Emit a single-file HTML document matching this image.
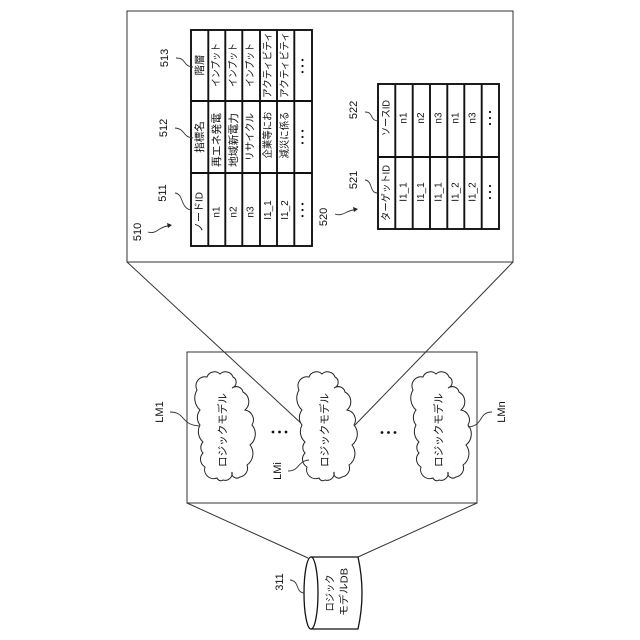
<!DOCTYPE html>
<html><head><meta charset="utf-8"><style>
html,body{margin:0;padding:0;background:#fff}
svg{display:block}
text{font-family:"Liberation Sans","Noto Sans CJK JP",sans-serif;fill:#111;text-anchor:middle;dominant-baseline:central}
.c{font-size:10px}
.k{font-size:10.5px}
.l{font-size:11px}
.t line,.t rect{stroke:#111;stroke-width:1.9;fill:none}
</style></head><body>
<svg width="640" height="640" viewBox="0 0 640 640" xmlns="http://www.w3.org/2000/svg">
<defs>
<path id="cl" d="M8,94 A9,9 0 0 1 6,80 A8,8 0 0 1 6,69 A14,14 0 0 1 3,52 A12,12 0 0 1 3,37 A16,16 0 0 1 0,17 A9,9 0 0 1 10,4 A8,8 0 0 1 23,1 A8,8 0 0 1 36,4 A6,6 0 0 1 35,15 A7,7 0 0 1 46,19 A11,11 0 0 1 48,37 A10,10 0 0 1 55,52 A14,14 0 0 1 53,72 A14,14 0 0 1 50,92 A9,9 0 0 1 43,104 A5,5 0 0 1 35,99 A7,7 0 0 1 26,107 A4,4 0 0 1 20,105 A9,9 0 0 1 8,94 Z" fill="#fff" stroke="#222" stroke-width="1"/>
</defs>
<g fill="none" stroke="#333" stroke-width="1">
<rect x="127" y="11" width="386" height="251"/>
<rect x="187" y="352" width="290" height="151"/>
<path d="M127,262 L303,425 M513,262 L355,425 M187,503 L308,558 M477,503 L358,557"/>
</g>
<use href="#cl" x="197" y="373"/>
<use href="#cl" x="299" y="373"/>
<use href="#cl" x="413" y="373"/>
<text class="k" textLength="74" lengthAdjust="spacingAndGlyphs" transform="translate(223,430) rotate(-90)">ロジックモデル</text>
<text class="k" textLength="74" lengthAdjust="spacingAndGlyphs" transform="translate(325,430) rotate(-90)">ロジックモデル</text>
<text class="k" textLength="74" lengthAdjust="spacingAndGlyphs" transform="translate(439,430) rotate(-90)">ロジックモデル</text>
<g fill="#111">
<circle cx="273" cy="432" r="1.4"/><circle cx="279.500" cy="432" r="1.4"/><circle cx="286" cy="432" r="1.4"/>
<circle cx="382" cy="432.500" r="1.4"/><circle cx="388.500" cy="432.500" r="1.4"/><circle cx="395" cy="432.500" r="1.4"/>
</g>
<!-- cylinder -->
<path d="M311,557 L358,557 Q366,593 358,629 L311,629" fill="#fff" stroke="#111" stroke-width="1.3"/>
<ellipse cx="311" cy="593" rx="7" ry="36" fill="#fff" stroke="#111" stroke-width="1.3"/>
<text class="c" textLength="37" lengthAdjust="spacingAndGlyphs" transform="translate(331,593) rotate(-90)">ロジック</text>
<text class="c" textLength="48" lengthAdjust="spacingAndGlyphs" transform="translate(345,592) rotate(-90)">モデルDB</text>
<!-- table 1 -->
<g class="t">
<rect x="191" y="30" width="121" height="216"/>
<line x1="208.300" y1="30" x2="208.300" y2="246"/><line x1="225.300" y1="30" x2="225.300" y2="246"/><line x1="242.300" y1="30" x2="242.300" y2="246"/><line x1="260" y1="30" x2="260" y2="246"/><line x1="277" y1="30" x2="277" y2="246"/><line x1="294.300" y1="30" x2="294.300" y2="246"/>
<line x1="191" y1="101" x2="312" y2="101"/><line x1="191" y1="173" x2="312" y2="173"/>
</g>
<text class="c" textLength="40" lengthAdjust="spacingAndGlyphs" transform="translate(200,212) rotate(-90)">ノードID</text>
<text class="c" transform="translate(217,212) rotate(-90)">n1</text>
<text class="c" transform="translate(234,212) rotate(-90)">n2</text>
<text class="c" transform="translate(251,212) rotate(-90)">n3</text>
<text class="c" transform="translate(268.500,210) rotate(-90)">I1_1</text>
<text class="c" transform="translate(285.500,210) rotate(-90)">I1_2</text>
<text class="k" transform="translate(200,137) rotate(-90)">指標名</text>
<text class="k" textLength="54" lengthAdjust="spacingAndGlyphs" transform="translate(217,140) rotate(-90)">再エネ発電</text>
<text class="k" textLength="54" lengthAdjust="spacingAndGlyphs" transform="translate(234,140) rotate(-90)">地域新電力</text>
<text class="c" textLength="48" lengthAdjust="spacingAndGlyphs" transform="translate(251,137) rotate(-90)">リサイクル</text>
<text class="c" textLength="47" lengthAdjust="spacingAndGlyphs" transform="translate(268.500,135) rotate(-90)">企業等にお</text>
<text class="c" textLength="47" lengthAdjust="spacingAndGlyphs" transform="translate(285.500,135) rotate(-90)">減災に係る</text>
<text class="k" transform="translate(200,65) rotate(-90)">階層</text>
<text class="c" textLength="44" lengthAdjust="spacingAndGlyphs" transform="translate(217,65) rotate(-90)">インプット</text>
<text class="c" textLength="44" lengthAdjust="spacingAndGlyphs" transform="translate(234,65) rotate(-90)">インプット</text>
<text class="c" textLength="44" lengthAdjust="spacingAndGlyphs" transform="translate(251,65) rotate(-90)">インプット</text>
<text class="c" textLength="66" lengthAdjust="spacingAndGlyphs" transform="translate(268.500,65) rotate(-90)">アクティビティ</text>
<text class="c" textLength="66" lengthAdjust="spacingAndGlyphs" transform="translate(285.500,65) rotate(-90)">アクティビティ</text>
<g fill="#111">
<circle cx="302.500" cy="204" r="1.1"/><circle cx="302.500" cy="210" r="1.1"/><circle cx="302.500" cy="216" r="1.1"/>
<circle cx="302.500" cy="131" r="1.1"/><circle cx="302.500" cy="137" r="1.1"/><circle cx="302.500" cy="143" r="1.1"/>
<circle cx="302.500" cy="60" r="1.1"/><circle cx="302.500" cy="66" r="1.1"/><circle cx="302.500" cy="72" r="1.1"/>
<circle cx="490" cy="186" r="1.1"/><circle cx="490" cy="192" r="1.1"/><circle cx="490" cy="198" r="1.1"/>
<circle cx="490" cy="112" r="1.1"/><circle cx="490" cy="118" r="1.1"/><circle cx="490" cy="124" r="1.1"/>
</g>
<!-- table 2 -->
<g class="t">
<rect x="378" y="84" width="121" height="145"/>
<line x1="395.300" y1="84" x2="395.300" y2="229"/><line x1="412.700" y1="84" x2="412.700" y2="229"/><line x1="430" y1="84" x2="430" y2="229"/><line x1="447.300" y1="84" x2="447.300" y2="229"/><line x1="464.300" y1="84" x2="464.300" y2="229"/><line x1="481.700" y1="84" x2="481.700" y2="229"/>
<line x1="378" y1="157" x2="499" y2="157"/>
</g>
<text class="c" textLength="56" lengthAdjust="spacingAndGlyphs" transform="translate(387,193) rotate(-90)">ターゲットID</text>
<text class="c" transform="translate(404,192) rotate(-90)">I1_1</text>
<text class="c" transform="translate(421.500,192) rotate(-90)">I1_1</text>
<text class="c" transform="translate(439,192) rotate(-90)">I1_1</text>
<text class="c" transform="translate(456,192) rotate(-90)">I1_2</text>
<text class="c" transform="translate(473,192) rotate(-90)">I1_2</text>
<text class="c" textLength="36" lengthAdjust="spacingAndGlyphs" transform="translate(387,118) rotate(-90)">ソースID</text>
<text class="c" transform="translate(404,118) rotate(-90)">n1</text>
<text class="c" transform="translate(421.500,118) rotate(-90)">n2</text>
<text class="c" transform="translate(439,118) rotate(-90)">n3</text>
<text class="c" transform="translate(456,118) rotate(-90)">n1</text>
<text class="c" transform="translate(473,118) rotate(-90)">n3</text>
<!-- labels -->
<text class="l" transform="translate(138,232) rotate(-90)">510</text>
<text class="l" transform="translate(163,193) rotate(-90)">511</text>
<text class="l" transform="translate(164,128) rotate(-90)">512</text>
<text class="l" transform="translate(165,58) rotate(-90)">513</text>
<text class="l" transform="translate(324,217) rotate(-90)">520</text>
<text class="l" transform="translate(354,180) rotate(-90)">521</text>
<text class="l" transform="translate(354,110) rotate(-90)">522</text>
<text class="l" transform="translate(160,412) rotate(-90)">LM1</text>
<text class="l" transform="translate(278,471) rotate(-90)">LMi</text>
<text class="l" transform="translate(502,412) rotate(-90)">LMn</text>
<text class="l" transform="translate(280,582) rotate(-90)">311</text>
<!-- leaders -->
<g fill="none" stroke="#333" stroke-width="0.9">
<path d="M175,193 C184,194 180,208 191,210"/>
<path d="M175,128 C186,129 182,137 193,138"/>
<path d="M176,58 C187,58 182,66 193,67"/>
<path d="M148,232 C156,235 160,226 168,226"/>
<path d="M335,214 C343,217 347,210 354,210"/>
<path d="M365,180 C373,181 369,192 377,193"/>
<path d="M365,112 C374,112 369,120 378,121"/>
<path d="M170,412 C186,412 180,425 200,426"/>
<path d="M288,471 C300,471 297,461 309,460"/>
<path d="M492,412 C478,412 484,426 468,427"/>
<path d="M290,580 C300,581 295,592 304,593"/>
</g>
<path d="M172,225 L167,223 L168,228 Z M358,209 L353,207 L354,212 Z" fill="#222"/>
</svg>
</body></html>
